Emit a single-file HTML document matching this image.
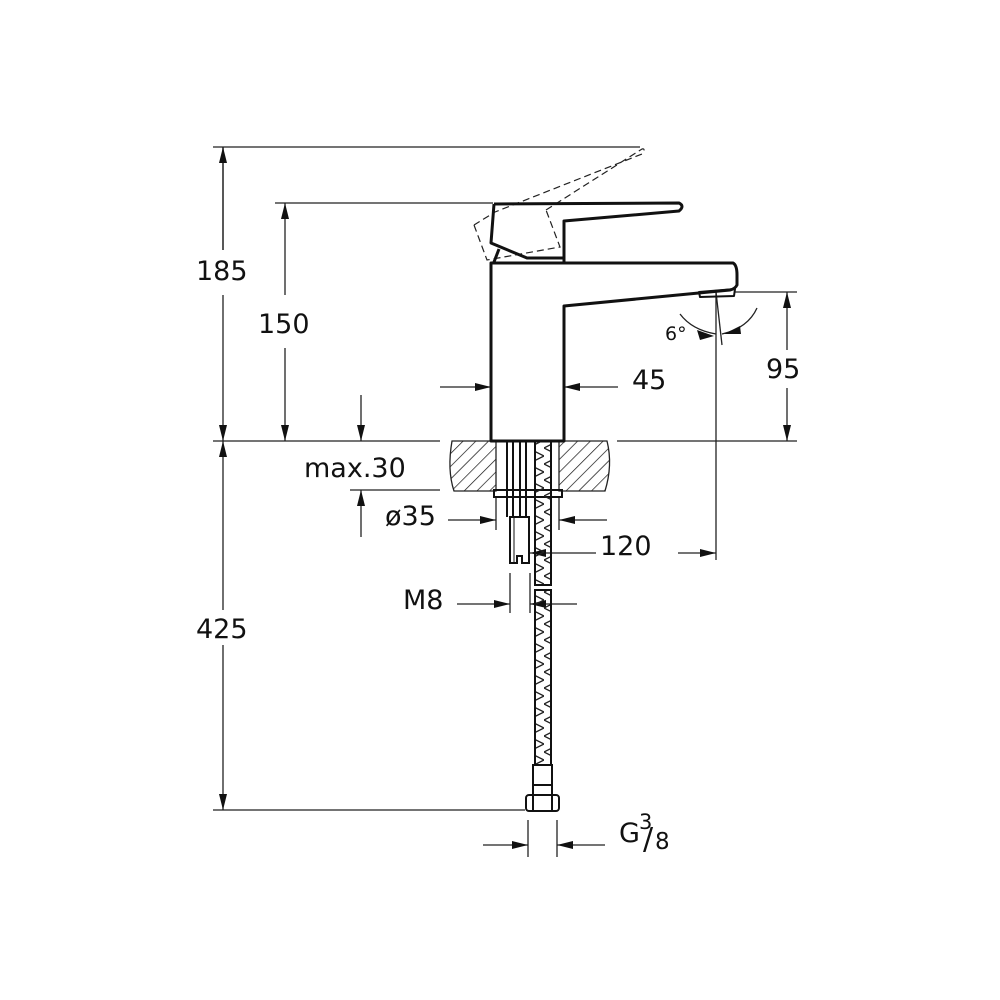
<!DOCTYPE html>
<html><head><meta charset="utf-8"><style>
html,body{margin:0;padding:0;background:#fff}
svg{display:block}
text{font-family:"DejaVu Sans","Liberation Sans",sans-serif;font-size:27px;fill:#111}
</style></head><body>
<svg width="1000" height="1000" viewBox="0 0 1000 1000" xmlns="http://www.w3.org/2000/svg">
<defs>
<marker id="a" viewBox="0 0 12 6" refX="12" refY="3" markerWidth="16" markerHeight="8" markerUnits="userSpaceOnUse" orient="auto"><path d="M0,0 L12,3 L0,6Z" fill="#111"/></marker>
<pattern id="h" width="9" height="9" patternUnits="userSpaceOnUse" patternTransform="rotate(45)"><line x1="0" y1="0" x2="0" y2="9" stroke="#111" stroke-width="1.4"/></pattern>
<pattern id="hh" width="16" height="16" patternUnits="userSpaceOnUse"><path d="M0,0 L16,8 L0,16" stroke="#222" stroke-width="1.3" fill="none"/></pattern>
</defs>
<g stroke="#222" stroke-width="1.3" fill="none">
<line x1="213" y1="147" x2="640" y2="147"/>
<line x1="275" y1="203" x2="493" y2="203"/>
<line x1="213" y1="441" x2="440" y2="441"/>
<line x1="617" y1="441" x2="797" y2="441"/>
<line x1="735" y1="292" x2="797" y2="292"/>
<line x1="350" y1="490" x2="440" y2="490"/>
<line x1="213" y1="810" x2="525" y2="810"/>
<line x1="223" y1="147" x2="223" y2="250"/><line x1="223" y1="295" x2="223" y2="441" marker-end="url(#a)"/>
<line x1="223" y1="250" x2="223" y2="147" marker-end="url(#a)"/>
<line x1="223" y1="610" x2="223" y2="441" marker-end="url(#a)"/>
<line x1="223" y1="645" x2="223" y2="810" marker-end="url(#a)"/>
<line x1="285" y1="295" x2="285" y2="203" marker-end="url(#a)"/>
<line x1="285" y1="348" x2="285" y2="441" marker-end="url(#a)"/>
<line x1="361" y1="395" x2="361" y2="441" marker-end="url(#a)"/>
<line x1="361" y1="537" x2="361" y2="490" marker-end="url(#a)"/>
<line x1="787" y1="350" x2="787" y2="292" marker-end="url(#a)"/>
<line x1="787" y1="388" x2="787" y2="441" marker-end="url(#a)"/>
<line x1="716" y1="292" x2="716" y2="560"/>
<line x1="440" y1="387" x2="491" y2="387" marker-end="url(#a)"/>
<line x1="618" y1="387" x2="564" y2="387" marker-end="url(#a)"/>
<line x1="496" y1="497" x2="496" y2="530"/><line x1="559" y1="497" x2="559" y2="530"/>
<line x1="448" y1="520" x2="496" y2="520" marker-end="url(#a)"/>
<line x1="607" y1="520" x2="559" y2="520" marker-end="url(#a)"/>
<line x1="596" y1="553" x2="530" y2="553" marker-end="url(#a)"/>
<line x1="678" y1="553" x2="716" y2="553" marker-end="url(#a)"/>
<line x1="510" y1="573" x2="510" y2="613"/><line x1="530" y1="573" x2="530" y2="613"/>
<line x1="457" y1="604" x2="510" y2="604" marker-end="url(#a)"/>
<line x1="577" y1="604" x2="530" y2="604" marker-end="url(#a)"/>
<line x1="528" y1="820" x2="528" y2="857"/><line x1="557" y1="820" x2="557" y2="857"/>
<line x1="483" y1="845" x2="528" y2="845" marker-end="url(#a)"/>
<line x1="605" y1="845" x2="557" y2="845" marker-end="url(#a)"/>
<path d="M680,314 Q692,330 716,334"/><path d="M757,308 Q748,328 722,334"/>
<line x1="716" y1="292" x2="722" y2="345"/>
</g>
<path d="M697,330 L714,336 L700,340Z" fill="#111"/>
<path d="M740,326 L724,334 L741,334Z" fill="#111"/>
<path d="M452,441 L496,441 L496,491 L454,491 Q447,470 452,441Z" fill="url(#h)" stroke="#222" stroke-width="1.3"/>
<path d="M559,441 L607,441 Q613,465 605,491 L559,491Z" fill="url(#h)" stroke="#222" stroke-width="1.3"/>
<g stroke="#222" stroke-width="1.2" fill="none" stroke-dasharray="7,4">
<path d="M474,225 L487,260 L560,247 L546,210"/>
<path d="M546,210 L642,149 Q646,148 642,154 L495,212 L474,225"/>
</g>
<g stroke="#111" stroke-width="3" fill="none" stroke-linejoin="round">
<path d="M491,441 L491,263 L733,263 Q737,265 737,275 L737,285 Q735,289 730,290 L564,306 L564,441 Z"/>
<path d="M494,204 L679,203 Q685,206 679,211 L564,221 L564,262"/>
<path d="M494,204 L491,243 L527,258 L564,258"/>
<path d="M494,262 L499,249"/>
<path d="M699,292 L735,289 L734,296 L700,297 Z" stroke-width="2"/>
</g>
<g stroke="#111" stroke-width="2" fill="none">
<line x1="507" y1="442" x2="507" y2="517"/><line x1="513" y1="442" x2="513" y2="517"/>
<line x1="520" y1="442" x2="520" y2="517"/><line x1="526" y1="442" x2="526" y2="517"/>
<rect x="494" y="490" width="68" height="7"/>
<path d="M510,517 L529,517 L529,563 L522,563 L522,556 L517,556 L517,563 L510,563 Z"/>
<line x1="514" y1="517" x2="514" y2="562" stroke-width="1"/>
<rect x="535" y="441" width="16" height="144" fill="url(#hh)"/>
<rect x="535" y="590" width="16" height="175" fill="url(#hh)"/>
<rect x="533" y="765" width="19" height="30"/>
<line x1="534" y1="785" x2="551" y2="785"/>
<rect x="526" y="795" width="33" height="16" rx="3"/>
<line x1="533" y1="796" x2="533" y2="810"/><line x1="552" y1="796" x2="552" y2="810"/>
</g>
<text x="196" y="280">185</text>
<text x="258" y="333">150</text>
<text x="304" y="477">max.30</text>
<text x="385" y="525">ø35</text>
<text x="632" y="389">45</text>
<text x="766" y="378">95</text>
<text x="600" y="555">120</text>
<text x="403" y="609">M8</text>
<text x="196" y="638">425</text>
<text x="665" y="340" style="font-size:19px">6°</text>
<text x="619" y="842">G</text>
<text x="639" y="829" style="font-size:21px">3</text>
<text x="643" y="849" style="font-size:30px">/</text>
<text x="655" y="849" style="font-size:23px">8</text>
</svg>
</body></html>
